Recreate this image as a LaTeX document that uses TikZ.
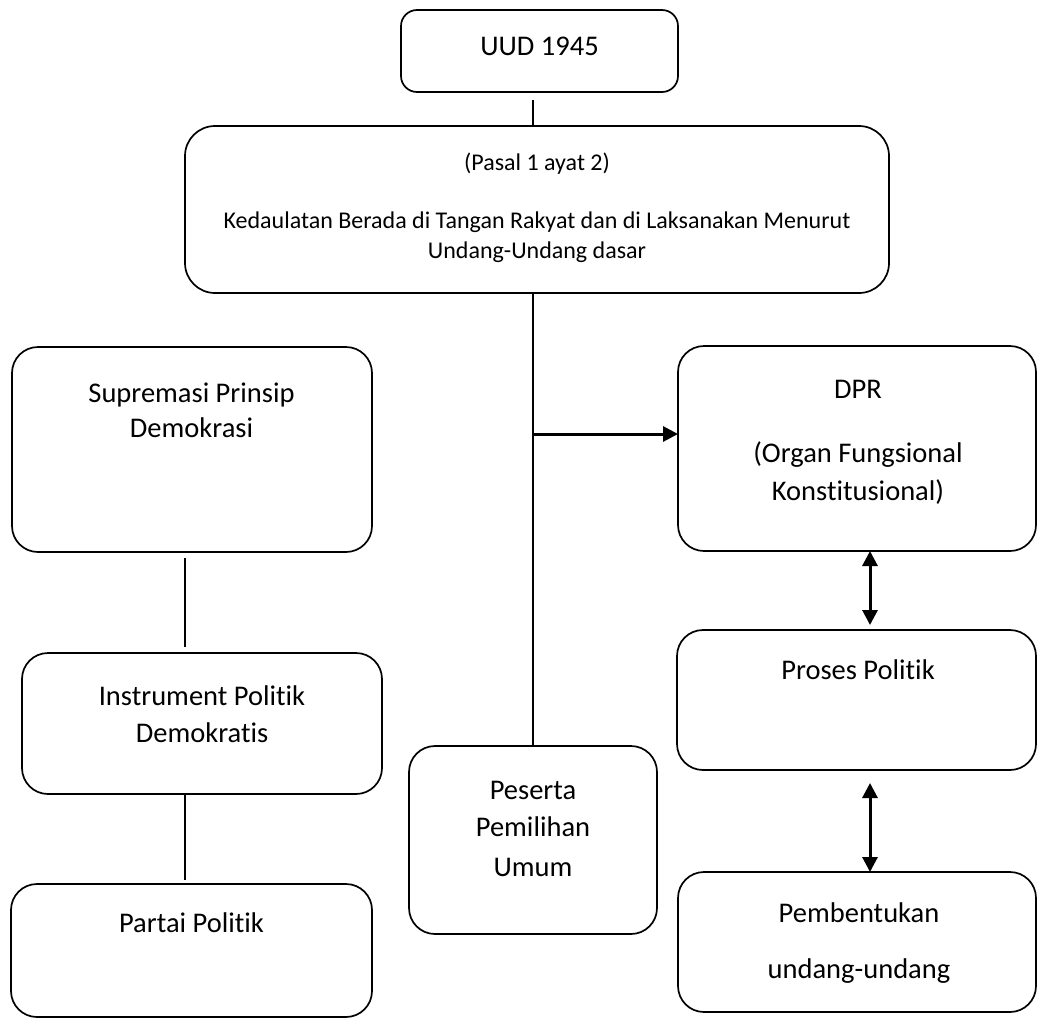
\documentclass[tikz,border=0pt]{standalone}
\usepackage{fontspec}
\setmainfont{Carlito}[Ligatures={NoCommon}]
\usetikzlibrary{arrows.meta,calc}
\tikzset{
  box/.style={draw, line width=1.7pt, rounded corners=26pt, inner sep=0pt, outer sep=0pt, anchor=north west},
  smallbox/.style={box, rounded corners=16pt},
  txt/.style={anchor=base, inner sep=0pt, font=\fontsize{28.5}{34}\selectfont},
  stxt/.style={anchor=base, inner sep=0pt, font=\fontsize{24}{29}\selectfont},
  conn/.style={line width=1.6pt},
  arr/.style={line width=3pt, -{Triangle[length=15pt,width=15pt]}},
  dbl/.style={line width=3pt, {Triangle[length=15pt,width=15pt]}-{Triangle[length=15pt,width=15pt]}}
}
\begin{document}
\begin{tikzpicture}[x=1pt,y=-1pt]
\useasboundingbox (0,0) rectangle (1038,1020);
% boxes
\node[smallbox, minimum width=277pt, minimum height=82pt] (uud) at (401,10) {};
\node[box, rounded corners=30pt, minimum width=704pt, minimum height=167pt] (top) at (185,126) {};
\node[box, minimum width=360pt, minimum height=205pt] (sup) at (12,347) {};
\node[box, minimum width=358pt, minimum height=205pt] (dpr) at (678,346) {};
\node[box, minimum width=360pt, minimum height=141pt] (ins) at (22,653) {};
\node[box, minimum width=248pt, minimum height=188pt] (pes) at (409,746) {};
\node[box, minimum width=359pt, minimum height=140pt] (pro) at (677,630) {};
\node[box, minimum width=358pt, minimum height=140pt] (pem) at (678,872) {};
\node[box, minimum width=361pt, minimum height=133pt] (par) at (11,884) {};
% texts
\node[txt] (tuud) at (539.5,55) {UUD 1945};
\node[stxt] (ttop1) at (537,170) {(Pasal 1 ayat 2)};
\node[stxt] (ttop2) at (537,228) {Kedaulatan Berada di Tangan Rakyat dan di Laksanakan Menurut};
\node[stxt] (ttop3) at (537,258) {Undang-Undang dasar};
\node[txt] (tsup1) at (191.5,402) {Supremasi Prinsip};
\node[txt] (tsup2) at (191.5,437) {Demokrasi};
\node[txt] (tdpr1) at (858,398) {DPR};
\node[txt] (tdpr2) at (858,462) {(Organ Fungsional};
\node[txt] (tdpr3) at (858,500) {Konstitusional)};
\node[txt] (tins1) at (202,705) {Instrument Politik};
\node[txt] (tins2) at (202,742) {Demokratis};
\node[txt] (tpes1) at (533,799) {Peserta};
\node[txt] (tpes2) at (533,836) {Pemilihan};
\node[txt] (tpes3) at (533,876) {Umum};
\node[txt] (tpro) at (858,679) {Proses Politik};
\node[txt] (tpem1) at (859,922) {Pembentukan};
\node[txt] (tpem2) at (859,978) {undang-undang};
\node[txt] (tpar) at (191.5,932) {Partai Politik};
% connectors
\coordinate (c1) at (533,100);
\draw[conn] (c1) -- (c1 |- top.north);
\draw[conn] (pes.north |- top.south) -- (pes.north);
\coordinate (j) at (533,434);
\draw[arr] (j) -- (j -| dpr.west);
\coordinate (d1) at (870,0);
\draw[dbl] (d1 |- dpr.south) -- ($(d1 |- pro.north)+(0,-5)$);
\draw[dbl] ($(d1 |- pro.south)+(0,13)$) -- (d1 |- pem.north);
\coordinate (l1) at (185,0);
\draw[conn] ($(l1 |- sup.south)+(0,6)$) -- ($(l1 |- ins.north)+(0,-6)$);
\draw[conn] (l1 |- ins.south) -- ($(l1 |- par.north)+(0,-4)$);
\end{tikzpicture}
\end{document}
